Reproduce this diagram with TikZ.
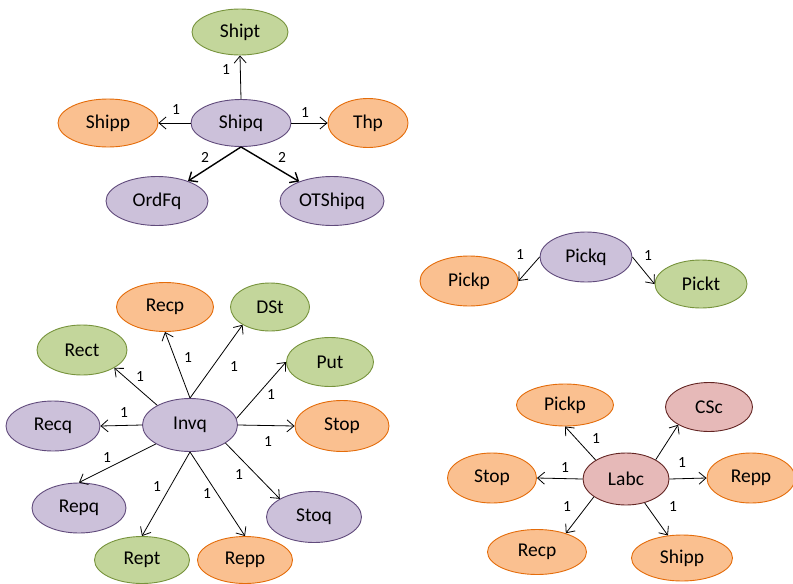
\documentclass[tikz,border=0pt]{standalone}
\usepackage{fontspec}
\setmainfont{Carlito}
\usetikzlibrary{shapes.geometric,arrows.meta}

\definecolor{greenfill}{HTML}{C3D69B}
\definecolor{greenline}{HTML}{77933C}
\definecolor{orangefill}{HTML}{FAC090}
\definecolor{orangeline}{HTML}{E46C0A}
\definecolor{purplefill}{HTML}{CCC1DA}
\definecolor{purpleline}{HTML}{604A7B}
\definecolor{pinkfill}{HTML}{E6B9B8}
\definecolor{pinkline}{HTML}{632523}

\tikzset{
  ent/.style={ellipse, draw, line width=0.9pt, inner sep=0pt,
    font=\fontsize{19.5}{21}\selectfont},
  gr/.style={ent, fill=greenfill, draw=greenline},
  og/.style={ent, fill=orangefill, draw=orangeline},
  pu/.style={ent, fill=purplefill, draw=purpleline},
  pk/.style={ent, fill=pinkfill, draw=pinkline},
  sz/.style n args={2}{minimum width=#1pt, minimum height=#2pt},
  rel/.style={draw=black, line width=0.8pt, -{Straight Barb[length=7pt,width=12pt]}},
  relbold/.style={rel, line width=1.4pt},
  card/.style={font=\fontsize{15.5}{17}\selectfont, inner sep=0pt},
}

\begin{document}
\begin{tikzpicture}[x=1pt, y=-1pt]
\useasboundingbox (0,0) rectangle (793,584);

% ---- shipment cluster ----
\node[pu, sz={100}{47}] (shipq) at (241,123) {Shipq};
\node[gr, sz={96}{46}]  (shipt) at (240,32)  {Shipt};
\node[og, sz={100}{48}] (shipp) at (108,123) {Shipp};
\node[og, sz={80}{49}]  (thp)   at (368,123) {Thp};
\node[pu, sz={102}{49}] (ordfq) at (157,201) {OrdFq};
\node[pu, sz={104}{49}] (otshipq) at (332,201) {OTShipq};

\draw[rel] (shipq.north) -- (shipt.south);
\draw[rel] (shipq.west) -- (shipp.east);
\draw[rel] (shipq.east) -- (thp.west);
\draw[relbold] (shipq.south) -- (ordfq);
\draw[relbold] (shipq.south) -- (otshipq);

\node[card] (c1) at (226,70)  {1};
\node[card] (c2) at (176,110) {1};
\node[card] (c3) at (305,113) {1};
\node[card] (c4) at (205,157) {2};
\node[card] (c5) at (282,157) {2};

% ---- picking cluster ----
\node[pu, sz={92}{50}] (pickq) at (586,257) {Pickq};
\node[og, sz={98}{50}] (pickp) at (469,281) {Pickp};
\node[gr, sz={92}{48}] (pickt) at (701,284) {Pickt};

\draw[rel] (pickq.west) -- (pickp.east);
\draw[rel] (pickq.east) -- (pickt.west);

\node[card] (c6) at (520,255) {1};
\node[card] (c7) at (648,256) {1};

% ---- inventory cluster ----
\node[pu, sz={95}{53}] (invq) at (190,425) {Invq};
\node[og, sz={97}{49}] (recp) at (165,307) {Recp};
\node[gr, sz={79}{48}] (dst)  at (270,307) {DSt};
\node[gr, sz={90}{50}] (rect) at (82,350)  {Rect};
\node[gr, sz={87}{49}] (put)  at (330,362) {Put};
\node[pu, sz={94}{50}] (recq) at (53,426)  {Recq};
\node[og, sz={94}{51}] (stop) at (342,426) {Stop};
\node[pu, sz={94}{50}] (repq) at (79,508)  {Repq};
\node[pu, sz={95}{51}] (stoq) at (314,517) {Stoq};
\node[gr, sz={95}{47}] (rept) at (142,560) {Rept};
\node[og, sz={95}{47}] (repp) at (245,560) {Repp};

\draw[rel] (invq.north) -- (recp.south);
\draw[rel] (invq.north) -- (dst.213);
\draw[rel] (invq.149) -- (rect.331);
\draw[rel] (invq.8) -- (put.west);
\draw[rel] (invq.west) -- (recq.east);
\draw[rel] (invq.east) -- (stop.west);
\draw[rel] (invq.209) -- (repq.north);
\draw[rel] (invq.south) -- (rept.north);
\draw[rel] (invq.south) -- (repp.north);
\draw[rel] (invq.333) -- (stoq.152);

\node[card] (c8)  at (188,358) {1};
\node[card] (c9)  at (234,367) {1};
\node[card] (c10) at (140,377) {1};
\node[card] (c11) at (271,395) {1};
\node[card] (c12) at (124,413) {1};
\node[card] (c13) at (268,442) {1};
\node[card] (c14) at (107,458) {1};
\node[card] (c15) at (157,487) {1};
\node[card] (c16) at (207,494) {1};
\node[card] (c17) at (239,475) {1};

% ---- labour cluster ----
\node[pk, sz={86}{52}] (labc)  at (626,479) {Labc};
\node[og, sz={97}{42}] (pickp2) at (565,405) {Pickp};
\node[pk, sz={87}{49}] (csc)   at (709,407) {CSc};
\node[og, sz={89}{50}] (stop2) at (492,478) {Stop};
\node[og, sz={88}{50}] (repp2) at (751,478) {Repp};
\node[og, sz={99}{45}] (recp2) at (537,552) {Recp};
\node[og, sz={101}{46}] (shipp2) at (682,558) {Shipp};

\draw[rel] (labc.148) -- (pickp2.south);
\draw[rel] (labc.33) -- (csc.210);
\draw[rel] (labc.west) -- (stop2.east);
\draw[rel] (labc.east) -- (repp2.west);
\draw[rel] (labc.209) -- (recp2.33);
\draw[rel] (labc.308) -- (shipp2.122);

\node[card] (c18) at (596,439) {1};
\node[card] (c19) at (565,468) {1};
\node[card] (c20) at (682,463) {1};
\node[card] (c21) at (567,507) {1};
\node[card] (c22) at (673,507) {1};
\end{tikzpicture}
\end{document}
